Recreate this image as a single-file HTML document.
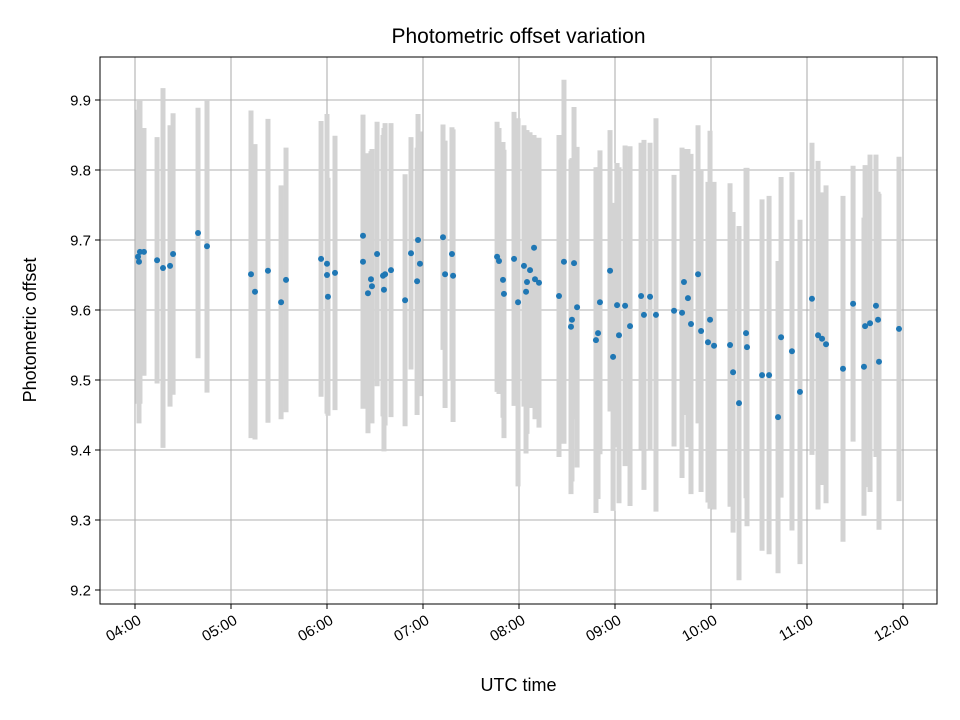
<!DOCTYPE html>
<html><head><meta charset="utf-8"><style>
body{margin:0;background:#fff}
svg{display:block;font-family:"Liberation Sans","DejaVu Sans",sans-serif}
</style></head><body>
<svg id="chart" width="960" height="720" viewBox="0 0 960 720" xmlns="http://www.w3.org/2000/svg">
<rect width="960" height="720" fill="#fff"/>
<g id="grid"></g>
<g id="bars"></g>
<g id="pts"></g>
<rect x="100" y="57" width="837" height="547" fill="none" stroke="#000" stroke-width="1"/>
<g id="axes"></g>
<text x="518.5" y="43" text-anchor="middle" font-size="21">Photometric offset variation</text>
<text x="518.5" y="691" text-anchor="middle" font-size="18">UTC time</text>
<text transform="translate(36,330) rotate(-90)" text-anchor="middle" font-size="18">Photometric offset</text>
</svg>
<script>
// minutes since 04:00 UTC
const times=[1.9,2.5,3.1,5.6,13.8,17.5,21.9,23.8,39.4,45.0,72.5,75.0,83.1,91.3,94.4,116.3,120.0,120.0,120.6,125.0,142.5,142.5,145.6,147.5,148.1,151.3,155.0,155.6,156.3,160.0,168.8,172.5,176.3,176.9,178.1,192.5,193.8,198.1,198.8,226.3,227.5,230.0,230.6,236.9,239.4,243.1,244.4,245.0,246.9,249.4,250.0,252.5,265.0,268.1,272.5,273.1,274.4,276.3,288.1,289.4,290.6,296.9,298.8,301.3,302.5,306.3,309.4,316.3,318.1,321.9,325.6,336.9,341.9,343.1,345.6,347.5,351.9,353.8,358.1,359.4,361.9,371.9,373.8,377.5,381.9,382.5,391.9,396.3,401.9,403.8,410.6,415.6,423.1,426.9,429.4,431.9,442.5,448.8,455.6,456.3,459.4,463.1,464.4,465.0,477.5];
const values=[9.676,9.669,9.683,9.683,9.671,9.660,9.663,9.680,9.710,9.691,9.651,9.626,9.656,9.611,9.643,9.673,9.666,9.650,9.619,9.653,9.669,9.706,9.624,9.644,9.634,9.680,9.649,9.629,9.651,9.657,9.614,9.681,9.641,9.700,9.666,9.704,9.651,9.680,9.649,9.676,9.670,9.643,9.623,9.673,9.611,9.663,9.626,9.640,9.657,9.689,9.644,9.639,9.620,9.669,9.576,9.586,9.667,9.604,9.557,9.567,9.611,9.656,9.533,9.607,9.564,9.606,9.577,9.620,9.593,9.619,9.593,9.599,9.596,9.640,9.617,9.580,9.651,9.570,9.554,9.586,9.549,9.550,9.511,9.467,9.567,9.547,9.507,9.507,9.447,9.561,9.541,9.483,9.616,9.564,9.559,9.551,9.516,9.609,9.519,9.577,9.581,9.606,9.586,9.526,9.573];
const errors=[0.210,0.231,0.217,0.177,0.176,0.257,0.201,0.201,0.179,0.209,0.234,0.211,0.217,0.167,0.189,0.197,0.214,0.146,0.170,0.196,0.210,0.173,0.200,0.183,0.196,0.189,0.201,0.231,0.216,0.210,0.180,0.166,0.191,0.180,0.189,0.161,0.191,0.181,0.209,0.193,0.190,0.197,0.206,0.210,0.263,0.201,0.231,0.217,0.197,0.161,0.200,0.207,0.230,0.260,0.239,0.231,0.223,0.229,0.247,0.237,0.217,0.201,0.220,0.203,0.240,0.229,0.257,0.219,0.250,0.220,0.281,0.194,0.236,0.190,0.213,0.243,0.213,0.230,0.229,0.270,0.234,0.231,0.229,0.253,0.236,0.256,0.251,0.256,0.223,0.229,0.256,0.246,0.223,0.249,0.209,0.227,0.247,0.197,0.213,0.230,0.241,0.216,0.183,0.240,0.246];
const xTickLabels=["04:00","05:00","06:00","07:00","08:00","09:00","10:00","11:00","12:00"];
const yTicks=[9.2,9.3,9.4,9.5,9.6,9.7,9.8,9.9];

const NS="http://www.w3.org/2000/svg";
function xs(m){return 135+m*1.6;}
function ys(v){return 100+(9.9-v)*700;}
function mk(tag,attrs,parent){const e=document.createElementNS(NS,tag);for(const k in attrs)e.setAttribute(k,attrs[k]);parent.appendChild(e);return e;}
const grid=document.getElementById('grid'),axes=document.getElementById('axes'),bars=document.getElementById('bars'),pts=document.getElementById('pts');
xTickLabels.forEach((lab,i)=>{
  const x=xs(i*60);
  const g=mk('line',{x1:x,x2:x,y1:57,y2:604,stroke:'#b0b0b0','stroke-width':1.1},grid);
  
  
  const t=mk('line',{x1:x,x2:x,y1:604,y2:609,stroke:'#000'},axes);
  
  
  const tx=mk('text',{x:x+2,y:614,'font-size':15,'text-anchor':'end',transform:`rotate(-30 ${x+2} 614)`,'dominant-baseline':'hanging'},axes);
  tx.textContent=lab;
  
  
});
yTicks.forEach(v=>{
  const y=ys(v);
  const g=mk('line',{x1:100,x2:937,y1:y,y2:y,stroke:'#b0b0b0','stroke-width':1.1},grid);
  
  
  const t=mk('line',{x1:95,x2:100,y1:y,y2:y,stroke:'#000'},axes);
  
  
  const tx=mk('text',{x:91,y:y+5.5,'font-size':15,'text-anchor':'end'},axes);
  tx.textContent=v.toFixed(1);
  
  
});
times.forEach((m,i)=>{
  const x=xs(m);
  const b=mk('line',{x1:x,x2:x,y1:ys(values[i]+errors[i]),y2:ys(values[i]-errors[i]),stroke:'#d3d3d3','stroke-width':5},bars);
  
  
  const c=mk('circle',{cx:x,cy:ys(values[i]),r:3,fill:'#1f77b4'},pts);
  
  
});
</script>
</body></html>
